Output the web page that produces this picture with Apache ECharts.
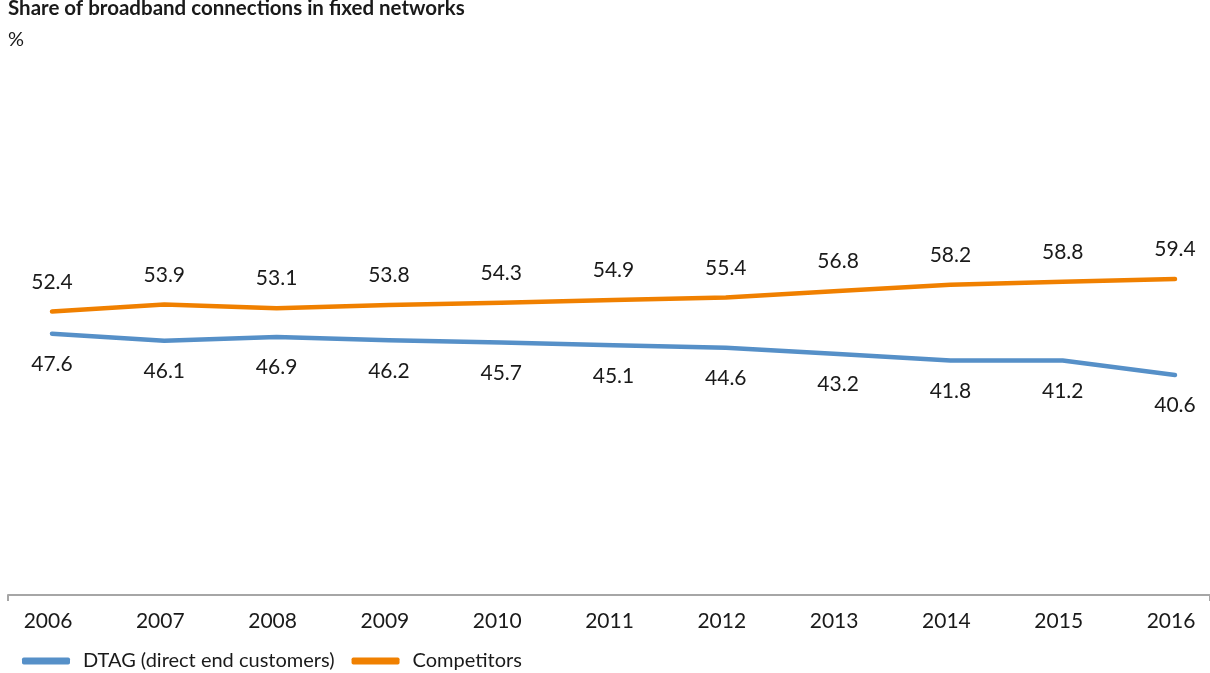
<!DOCTYPE html>
<html>
<head>
<meta charset="utf-8">
<script src="https://cdn.jsdelivr.net/npm/echarts@6/dist/echarts.min.js"></script>
<style>
html,body{margin:0;padding:0;background:#fff;}
#chart{width:1210px;height:673px;}
</style>
</head>
<body>
<div id="chart"></div>
<script>
const years = ['2006','2007','2008','2009','2010','2011','2012','2013','2014','2015','2016'];
// values as drawn by the lines in the picture
const dtagValues = [47.6, 46.1, 46.9, 46.2, 45.7, 45.1, 44.6, 43.2, 41.8, 41.8, 38.7];
const competitorValues = [52.4, 53.9, 53.1, 53.8, 54.3, 54.9, 55.4, 56.8, 58.2, 58.8, 59.4];
// printed value labels
const dtagLabels = ['47.6','46.1','46.9','46.2','45.7','45.1','44.6','43.2','41.8','41.2','40.6'];
const competitorLabels = ['52.4','53.9','53.1','53.8','54.3','54.9','55.4','56.8','58.2','58.8','59.4'];
const seriesNames = ['DTAG (direct end customers)', 'Competitors'];

const FONT = 'Lato, "Noto Sans", sans-serif';
const TXT = '#1a1a1a';
const BLUE = '#5690c8';
const ORANGE = '#f08000';

const chart = echarts.init(document.getElementById('chart'), null, {renderer: 'canvas'});
chart.setOption({
  animation: false,
  backgroundColor: '#fff',
  textStyle: {fontFamily: FONT, color: TXT},
  title: [
    {text: 'Share of broadband connections in fixed networks', left: 8, top: -2, padding: 0,
     textStyle: {fontFamily: FONT, fontSize: 20.5, fontWeight: 'bold', color: TXT}},
    {text: '%', left: 8, top: 30, padding: 0,
     textStyle: {fontFamily: FONT, fontSize: 20, fontWeight: 'normal', color: TXT}}
  ],
  legend: {
    data: seriesNames,
    left: 22, top: 651, padding: 0,
    icon: 'roundRect', itemWidth: 48, itemHeight: 7, itemGap: 17,
    textStyle: {fontFamily: FONT, fontSize: 20, color: TXT, padding: [0, 0, 0, 8]}
  },
  grid: [
    {left: 52, right: 35, top: 91, bottom: 78},
    {left: 8, right: 0, top: 91, bottom: 78}
  ],
  xAxis: [
    {type: 'category', data: years, gridIndex: 0, boundaryGap: false,
     axisLine: {show: false}, axisTick: {show: false},
     axisLabel: {fontFamily: FONT, fontSize: 21, color: TXT, margin: 16, padding: [0, 8, 0, 0]}},
    {type: 'value', gridIndex: 1, min: 0, max: 1, interval: 1,
     axisLine: {show: true, onZero: false, lineStyle: {color: '#a6a6a6', width: 2}},
     axisTick: {show: true, length: 6, lineStyle: {color: '#a6a6a6', width: 2}},
     axisLabel: {show: false}, splitLine: {show: false}}
  ],
  yAxis: [
    {type: 'value', gridIndex: 0, min: -8.8, max: 100, show: false, splitLine: {show: false}},
    {type: 'value', gridIndex: 1, min: 0, max: 1, show: false, splitLine: {show: false}}
  ],
  series: [
    {name: seriesNames[0], type: 'line', data: dtagValues, symbol: 'circle', symbolSize: 0.1,
     showSymbol: true, color: BLUE, itemStyle: {color: BLUE},
     lineStyle: {width: 4.5, color: BLUE, cap: 'round', join: 'round'},
     label: {show: true, position: 'bottom', distance: 20, fontFamily: FONT, fontSize: 21, color: TXT,
       formatter: p => dtagLabels[p.dataIndex]}},
    {name: seriesNames[1], type: 'line', data: competitorValues, symbol: 'circle', symbolSize: 0.1,
     showSymbol: true, color: ORANGE, itemStyle: {color: ORANGE},
     lineStyle: {width: 4.5, color: ORANGE, cap: 'round', join: 'round'},
     label: {show: true, position: 'top', distance: 19, fontFamily: FONT, fontSize: 21, color: TXT,
       formatter: p => competitorLabels[p.dataIndex]}}
  ]
});
</script>
</body>
</html>
